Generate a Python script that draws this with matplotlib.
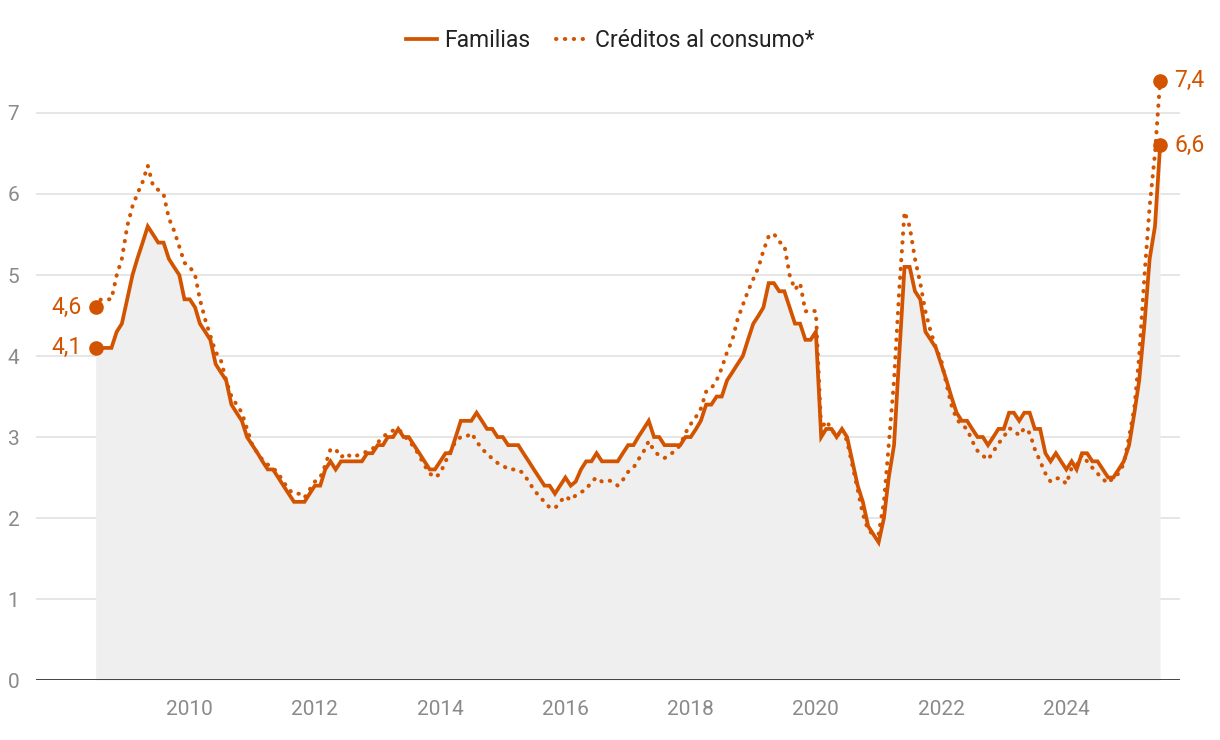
import pandas as pd
import numpy as np
import matplotlib
matplotlib.use('Agg')
import matplotlib.pyplot as plt
from matplotlib.lines import Line2D

plt.rcParams['font.family'] = ['Roboto', 'DejaVu Sans']

# 月度数据：2008-07 至 2025-07
start_month = '2008-07-01'

familias = [
    4.1, 4.1, 4.1, 4.1, 4.3, 4.4, 4.7, 5.0, 5.2, 5.4, 5.6, 5.5,
    5.4, 5.4, 5.2, 5.1, 5.0, 4.7, 4.7, 4.6, 4.4, 4.3, 4.2, 3.9,
    3.8, 3.7, 3.4, 3.3, 3.2, 3.0, 2.9, 2.8, 2.7, 2.6, 2.6, 2.5,
    2.4, 2.3, 2.2, 2.2, 2.2, 2.3, 2.4, 2.4, 2.6, 2.7, 2.6, 2.7,
    2.7, 2.7, 2.7, 2.7, 2.8, 2.8, 2.9, 2.9, 3.0, 3.0, 3.1, 3.0,
    3.0, 2.9, 2.8, 2.7, 2.6, 2.6, 2.7, 2.8, 2.8, 3.0, 3.2, 3.2,
    3.2, 3.3, 3.2, 3.1, 3.1, 3.0, 3.0, 2.9, 2.9, 2.9, 2.8, 2.7,
    2.6, 2.5, 2.4, 2.4, 2.3, 2.4, 2.5, 2.4, 2.45, 2.6, 2.7, 2.7,
    2.8, 2.7, 2.7, 2.7, 2.7, 2.8, 2.9, 2.9, 3.0, 3.1, 3.2, 3.0,
    3.0, 2.9, 2.9, 2.9, 2.9, 3.0, 3.0, 3.1, 3.2, 3.4, 3.4, 3.5,
    3.5, 3.7, 3.8, 3.9, 4.0, 4.2, 4.4, 4.5, 4.6, 4.9, 4.9, 4.8,
    4.8, 4.6, 4.4, 4.4, 4.2, 4.2, 4.3, 3.0, 3.1, 3.1, 3.0, 3.1,
    3.0, 2.7, 2.4, 2.2, 1.9, 1.8, 1.7, 2.0, 2.5, 2.9, 4.0, 5.1,
    5.1, 4.8, 4.7, 4.3, 4.2, 4.1, 3.9, 3.7, 3.5, 3.3, 3.2, 3.2,
    3.1, 3.0, 3.0, 2.9, 3.0, 3.1, 3.1, 3.3, 3.3, 3.2, 3.3, 3.3,
    3.1, 3.1, 2.8, 2.7, 2.8, 2.7, 2.6, 2.7, 2.6, 2.8, 2.8, 2.7,
    2.7, 2.6, 2.5, 2.5, 2.6, 2.7, 2.9, 3.3, 3.7, 4.4, 5.2, 5.6,
    6.6,
]

consumo = [
    4.6, 4.7, 4.7, 4.7, 5.0, 5.2, 5.6, 5.85, 6.0, 6.15, 6.35, 6.1,
    6.05, 6.0, 5.7, 5.55, 5.35, 5.15, 5.1, 5.0, 4.7, 4.45, 4.25, 4.05,
    3.95, 3.7, 3.5, 3.4, 3.3, 3.1, 2.9, 2.8, 2.72, 2.66, 2.62, 2.55,
    2.45, 2.35, 2.3, 2.3, 2.25, 2.35, 2.45, 2.5, 2.65, 2.85, 2.85, 2.75,
    2.8, 2.75, 2.77, 2.8, 2.82, 2.85, 2.93, 3.0, 3.05, 3.08, 3.1, 3.03,
    2.95, 2.88, 2.77, 2.65, 2.55, 2.5, 2.55, 2.7, 2.82, 2.95, 3.0, 3.0,
    3.05, 2.95, 2.85, 2.8, 2.73, 2.68, 2.65, 2.6, 2.6, 2.6, 2.55, 2.45,
    2.35, 2.27, 2.2, 2.13, 2.12, 2.2, 2.27, 2.22, 2.28, 2.32, 2.35, 2.45,
    2.5, 2.45, 2.47, 2.45, 2.4, 2.47, 2.57, 2.62, 2.72, 2.82, 2.95, 2.83,
    2.77, 2.74, 2.78, 2.83, 2.9, 3.05, 3.16, 3.25, 3.35, 3.56, 3.6, 3.7,
    3.85, 4.05, 4.2, 4.45, 4.63, 4.8, 4.95, 5.1, 5.3, 5.48, 5.51, 5.41,
    5.37, 5.0, 4.82, 4.9, 4.55, 4.57, 4.55, 3.1, 3.2, 3.1, 3.0, 3.1,
    2.95, 2.65, 2.35, 2.05, 1.85, 1.8, 1.8, 2.2, 2.9, 3.7, 4.8, 5.78,
    5.6, 5.2, 4.9, 4.55, 4.3, 4.1, 3.95, 3.65, 3.4, 3.22, 3.15, 3.1,
    2.95, 2.83, 2.77, 2.72, 2.82, 2.92, 3.0, 3.11, 3.08, 3.02, 3.11, 3.05,
    2.85, 2.7, 2.55, 2.45, 2.49, 2.49, 2.42, 2.62, 2.65, 2.78, 2.7, 2.62,
    2.55, 2.48, 2.43, 2.5, 2.55, 2.67, 3.0, 3.37, 4.0, 5.0, 5.85, 6.5,
    7.4,
]

year_ticks = [2010, 2012, 2014, 2016, 2018, 2020, 2022, 2024]
y_ticks = [0, 1, 2, 3, 4, 5, 6, 7]

ORANGE = '#D35400'
GRAY_TXT = '#8a8a8a'
DOTS = (0, (0.1, 2.1))

dates = pd.date_range(start_month, periods=len(familias), freq='MS')

fig = plt.figure(figsize=(12.2, 7.4), dpi=100)
ax = fig.add_axes([0.0295, 0.081, 0.938, 0.832])

# 背景填充 + 网格
ax.fill_between(dates, 0, familias, color='#efefef', lw=0, zorder=1)
for v in y_ticks[1:]:
    ax.axhline(v, color='#e2e2e2', lw=1.2, zorder=0)
ax.axhline(0, color='#333333', lw=2, zorder=4)

ax.plot(dates, familias, color=ORANGE, lw=2.7, solid_joinstyle='miter', zorder=3)
ax.plot(dates, consumo, color=ORANGE, lw=2.9, linestyle=DOTS,
        dash_capstyle='round', zorder=3)

# 首尾标注
for series in (familias, consumo):
    ax.plot([dates[0], dates[-1]], [series[0], series[-1]], 'o', color=ORANGE,
            markersize=9.5, zorder=5, clip_on=False)
    ax.annotate(f'{series[0]:.1f}'.replace('.', ','), (dates[0], series[0]),
                xytext=(-10, 0), textcoords='offset points', ha='right', va='center',
                fontsize=16.5, color=ORANGE)
    ax.annotate(f'{series[-1]:.1f}'.replace('.', ','), (dates[-1], series[-1]),
                xytext=(10, 0), textcoords='offset points', ha='left', va='center',
                fontsize=16.5, color=ORANGE)

ax.set_xlim(pd.Timestamp('2007-07-19'), pd.Timestamp('2025-10-27'))
ax.set_ylim(0, 7.6)
ax.set_xticks([pd.Timestamp(f'{y}-01-01') for y in year_ticks])
ax.set_xticklabels([str(y) for y in year_ticks])
ax.set_yticks(y_ticks)
ax.set_yticklabels([str(v) for v in y_ticks])
ax.tick_params(axis='x', length=0, pad=14, labelsize=15, labelcolor=GRAY_TXT)
ax.tick_params(axis='y', length=0, pad=12, labelsize=15, labelcolor=GRAY_TXT)
for s in ax.spines.values():
    s.set_visible(False)

handles = [
    Line2D([], [], color=ORANGE, lw=2.7),
    Line2D([], [], color=ORANGE, lw=2.9, linestyle=DOTS, dash_capstyle='round'),
]
fig.legend(handles, ['Familias', 'Créditos al consumo*'], loc='center',
           bbox_to_anchor=(0.5, 0.945), ncol=2, frameon=False, fontsize=16.5,
           handlelength=1.35, columnspacing=1.1, handletextpad=0.35, labelcolor='#222222')

fig.savefig('out.png', dpi=100, facecolor='white')
